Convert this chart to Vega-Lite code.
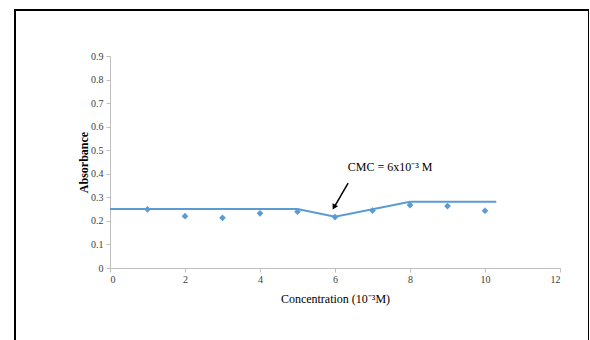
{
  "$schema": "https://vega.github.io/schema/vega-lite/v6.json",
  "autosize": "none",
  "padding": {"left": 15, "top": 10, "right": 0, "bottom": 0},
  "width": 574,
  "height": 340,
  "background": "white",
  "config": {
    "view": {"stroke": "#000000", "strokeWidth": 2},
    "font": "Liberation Serif"
  },
  "datasets": {
    "points": [
      {"conc": 1, "abs": 0.249},
      {"conc": 2, "abs": 0.220},
      {"conc": 3, "abs": 0.213},
      {"conc": 4, "abs": 0.232},
      {"conc": 5, "abs": 0.239},
      {"conc": 6, "abs": 0.216},
      {"conc": 7, "abs": 0.244},
      {"conc": 8, "abs": 0.267},
      {"conc": 9, "abs": 0.263},
      {"conc": 10, "abs": 0.243}
    ],
    "fit": [
      {"conc": 0, "abs": 0.250},
      {"conc": 5, "abs": 0.250},
      {"conc": 6, "abs": 0.218},
      {"conc": 8, "abs": 0.281},
      {"conc": 10.3, "abs": 0.281}
    ],
    "arrow": [
      {"x1": 6.35, "y1": 0.36, "x2": 5.99, "y2": 0.262}
    ],
    "head": [
      {"conc": 5.985, "abs": 0.262}
    ],
    "label": [
      {"conc": 7.47, "abs": 0.428, "text": "CMC = 6x10⁻³ M"}
    ]
  },
  "encoding": {
    "x": {
      "field": "conc", "type": "quantitative",
      "scale": {"domain": [0, 12], "range": [95, 545], "nice": false, "zero": false},
      "axis": {
        "title": "Concentration (10⁻³M)",
        "values": [0, 2, 4, 6, 8, 10, 12],
        "offset": -82,
        "grid": false,
        "domainColor": "#bfbfbf",
        "tickColor": "#bfbfbf",
        "tickSize": 4,
        "labelFont": "Liberation Serif",
        "labelFontSize": 10,
        "labelColor": "#404040",
        "labelPadding": 2,
        "titleFont": "Liberation Serif",
        "titleFontSize": 12,
        "titleFontWeight": "normal",
        "titleColor": "#000000",
        "titlePadding": 9
      }
    },
    "y": {
      "field": "abs", "type": "quantitative",
      "scale": {"domain": [0, 0.9], "range": [258, 46], "nice": false, "zero": false},
      "axis": {
        "title": "Absorbance",
        "values": [0, 0.1, 0.2, 0.3, 0.4, 0.5, 0.6, 0.7, 0.8, 0.9],
        "format": ".1~f",
        "offset": -95,
        "grid": false,
        "domainColor": "#bfbfbf",
        "tickColor": "#bfbfbf",
        "tickSize": 4,
        "labelFont": "Liberation Serif",
        "labelFontSize": 10,
        "labelColor": "#404040",
        "labelPadding": 3,
        "titleFont": "Liberation Serif",
        "titleFontSize": 12,
        "titleFontWeight": "bold",
        "titleColor": "#000000",
        "titlePadding": 0
      }
    }
  },
  "layer": [
    {
      "data": {"name": "fit"},
      "mark": {"type": "line", "color": "#5B9BD5", "strokeWidth": 2}
    },
    {
      "data": {"name": "points"},
      "mark": {"type": "point", "shape": "diamond", "filled": true, "color": "#5B9BD5", "size": 45, "opacity": 1}
    },
    {
      "data": {"name": "arrow"},
      "mark": {"type": "rule", "color": "#000000", "strokeWidth": 1.5},
      "encoding": {
        "x": {"field": "x1", "type": "quantitative"},
        "y": {"field": "y1", "type": "quantitative"},
        "x2": {"field": "x2"},
        "y2": {"field": "y2"}
      }
    },
    {
      "data": {"name": "head"},
      "mark": {"type": "point", "shape": "triangle", "filled": true, "color": "#000000", "size": 40, "angle": 209, "opacity": 1}
    },
    {
      "data": {"name": "label"},
      "mark": {"type": "text", "font": "Liberation Serif", "fontSize": 12, "color": "#000000"},
      "encoding": {"text": {"field": "text"}}
    }
  ]
}
